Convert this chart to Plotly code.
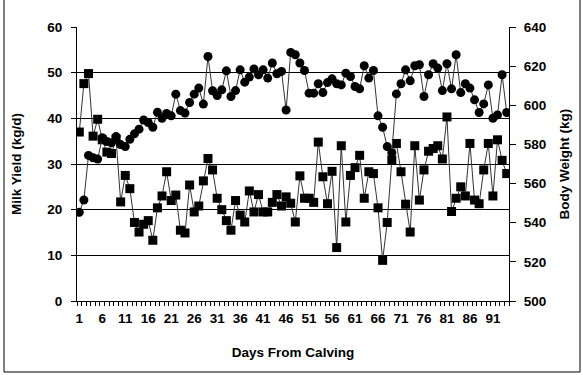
import plotly.graph_objects as go

days = list(range(1, 95))

milk_yield = [37.0, 47.6, 49.8, 36.1, 39.8, 35.3, 32.6, 32.3, 35.5, 21.7,
              27.5, 24.6, 17.2, 15.1, 16.8, 17.6, 13.3, 20.4, 23.0, 28.3,
              22.0, 23.2, 15.5, 14.9, 25.4, 19.5, 20.8, 26.3, 31.2, 28.7,
              22.5, 20.0, 17.6, 15.5, 22.0, 18.8, 17.3, 24.1, 19.5, 23.3,
              19.5, 19.5, 21.6, 23.3, 20.8, 22.8, 21.4, 17.3, 27.4, 22.5,
              22.5, 21.6, 34.8, 27.2, 21.3, 28.4, 11.7, 34.0, 17.3, 27.5,
              29.2, 31.9, 22.5, 28.3, 27.9, 20.4, 8.9, 17.2, 30.9, 34.5,
              28.3, 21.2, 15.1, 34.0, 22.1, 28.7, 32.8, 33.4, 34.0, 31.1,
              40.3, 19.6, 22.5, 25.0, 23.0, 34.5, 22.1, 21.3, 28.7, 34.5,
              23.0, 35.3, 30.8, 27.9]

body_weight = [545.3, 551.6, 574.4, 573.2, 572.5, 583.4, 581.5, 580.8, 584.0, 579.9,
               578.9, 582.6, 585.4, 587.8, 592.5, 591.2, 588.8, 596.4, 593.4, 595.8,
               594.6, 605.7, 597.3, 596.0, 601.4, 605.7, 608.8, 600.6, 624.9, 607.4,
               605.0, 607.9, 617.6, 604.5, 607.5, 618.1, 611.8, 614.4, 618.6, 615.6,
               618.1, 613.9, 621.6, 616.1, 617.3, 597.6, 627.0, 625.8, 621.6, 617.8,
               606.2, 606.2, 611.0, 606.5, 611.6, 613.5, 611.0, 610.4, 616.4, 614.7,
               609.6, 608.4, 620.2, 613.9, 617.8, 594.6, 588.8, 578.9, 575.8, 605.8,
               611.0, 618.1, 612.5, 620.2, 620.7, 604.5, 615.6, 621.2, 619.0, 607.5,
               621.2, 608.4, 625.8, 606.5, 611.0, 608.8, 602.8, 596.3, 600.7, 610.4,
               593.4, 595.1, 615.6, 596.3]

x_tick_vals = list(range(1, 95, 5))
x_tick_text = [str(v) for v in x_tick_vals]
y_left_ticks = [0, 10, 20, 30, 40, 50, 60]
y_right_ticks = list(range(500, 641, 20))

FONT = "Liberation Sans"

fig = go.Figure()
fig.add_trace(go.Scatter(
    x=days, y=milk_yield, mode="lines+markers", name="Milk Yield",
    line=dict(color="#333333", width=1),
    marker=dict(symbol="square", size=9, color="black"),
    yaxis="y"))
fig.add_trace(go.Scatter(
    x=days, y=body_weight, mode="lines+markers", name="Body Weight",
    line=dict(color="#333333", width=1),
    marker=dict(symbol="circle", size=9, color="black"),
    yaxis="y2"))

tickfont = dict(family=FONT, size=13.5, color="black")
titlefont = dict(family=FONT, size=13.5, color="black")

fig.update_layout(
    width=583, height=375,
    margin=dict(l=77, r=74, t=27, b=74),
    paper_bgcolor="white", plot_bgcolor="white",
    showlegend=False,
    font=dict(family=FONT, color="black"),
    xaxis=dict(
        range=[0.5, 94.5], tickvals=x_tick_vals, ticktext=[f"<b>{t}</b>" for t in x_tick_text],
        tickfont=tickfont, ticks="outside", ticklen=5, tickcolor="rgba(0,0,0,0)",
        showline=True, linecolor="black", linewidth=1, showgrid=False, zeroline=False,
        minor=dict(ticks="outside", tick0=0.5, dtick=1, ticklen=4, tickcolor="black", tickwidth=1),
        title=dict(text="<b>Days From Calving</b>", font=titlefont, standoff=22),
    ),
    yaxis=dict(
        range=[0, 60], tickvals=y_left_ticks,
        ticktext=[f"<b>{v}</b>" for v in y_left_ticks],
        tickfont=tickfont, ticks="outside", ticklen=5, tickcolor="black",
        ticklabelstandoff=6,
        showline=True, linecolor="black", linewidth=1,
        showgrid=True, gridcolor="black", gridwidth=1, zeroline=False,
        title=dict(text="<b>Milk Yield (kg/d)</b>", font=titlefont, standoff=22),
    ),
    yaxis2=dict(
        range=[500, 640], tickvals=y_right_ticks,
        ticktext=[f"<b>{v}</b>" for v in y_right_ticks],
        tickfont=tickfont, ticks="outside", ticklen=6, tickcolor="black",
        ticklabelstandoff=5,
        showline=True, linecolor="black", linewidth=1,
        showgrid=False, zeroline=False, overlaying="y", side="right",
        title=dict(text="<b>Body Weight (kg)</b>", font=titlefont, standoff=14),
    ),
    shapes=[dict(type="rect", xref="paper", yref="paper",
                 x0=-73/432, x1=(580-77)/432, y0=-(372-301)/274, y1=(301+2)/274,
                 line=dict(color="black", width=1), fillcolor="rgba(0,0,0,0)", layer="below")],
)

fig.write_html("out.html")
